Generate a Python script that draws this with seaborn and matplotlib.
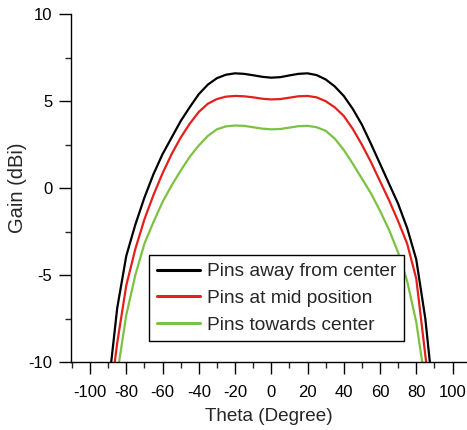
import numpy as np
import pandas as pd
import matplotlib
matplotlib.use("Agg")
import matplotlib.pyplot as plt
import seaborn as sns
from matplotlib.ticker import MultipleLocator

# angles and gain curves
theta = list(range(-90, 95, 5))
gain_away = [-11.6, -6.9, -3.9, -2.1, -0.55, 0.8, 1.95, 2.9, 3.85, 4.65, 5.4, 5.95, 6.32, 6.52, 6.6,
             6.57, 6.49, 6.4, 6.35, 6.38, 6.48, 6.57, 6.6, 6.5, 6.25, 5.85, 5.3, 4.55, 3.65, 2.55,
             1.4, 0.25, -0.9, -2.3, -4.1, -7.5, -12.5]
gain_mid = [-13.0, -8.9, -5.6, -3.5, -1.8, -0.4, 0.85, 1.95, 2.9, 3.7, 4.38, 4.85, 5.12, 5.26, 5.3,
            5.28, 5.22, 5.14, 5.1, 5.12, 5.2, 5.28, 5.3, 5.22, 5.0, 4.65, 4.15, 3.4, 2.5, 1.5,
            0.4, -0.7, -1.9, -3.2, -5.2, -9.6, -14.0]
gain_towards = [-14.5, -10.7, -7.3, -5.0, -3.2, -1.95, -0.8, 0.15, 1.0, 1.8, 2.45, 3.0, 3.38, 3.55, 3.6,
                3.58, 3.5, 3.42, 3.38, 3.4, 3.48, 3.56, 3.58, 3.5, 3.3, 2.85, 2.2, 1.4, 0.55, -0.3,
                -1.3, -2.4, -3.7, -5.35, -7.7, -11.2, -15.0]
series_names = ["Pins away from center", "Pins at mid position", "Pins towards center"]
colors = ["#000000", "#e3201b", "#7cc242"]

df = pd.DataFrame({
    "theta": theta * 3,
    "gain": gain_away + gain_mid + gain_towards,
    "series": np.repeat(series_names, len(theta)),
})

sns.set_style("ticks")
plt.rcParams['font.family'] = ['Liberation Sans', 'DejaVu Sans']
plt.rcParams['axes.unicode_minus'] = False

fig = plt.figure(figsize=(4.67, 4.30), dpi=100)
ax = fig.add_axes([0.152, 0.158, 0.848, 0.809])
sns.lineplot(data=df, x="theta", y="gain", hue="series", palette=colors,
             hue_order=series_names, linewidth=1.6, ax=ax, sort=False)

ax.set_xlim(-110.5, 108)
ax.set_ylim(-10, 10)
ax.set_xticks(range(-100, 101, 20))
ax.xaxis.set_minor_locator(MultipleLocator(10))
ax.yaxis.set_major_locator(MultipleLocator(5))
ax.yaxis.set_minor_locator(MultipleLocator(2.5))
ax.tick_params(which='major', direction='out', length=8.5, width=1.0, labelsize=12, colors='black')
ax.tick_params(which='minor', direction='out', length=4.5, width=1.0)
ax.tick_params(axis='x', which='major', pad=8)
ax.tick_params(axis='y', which='major', pad=5)
ax.set_xlabel("Theta (Degree)", fontsize=13.6, labelpad=6)
ax.set_ylabel("Gain (dBi)", fontsize=14.5, labelpad=1)
sns.despine(ax=ax)
for s in ['left', 'bottom']:
    ax.spines[s].set_linewidth(1.0)
    ax.spines[s].set_color('black')

leg = ax.legend(loc='lower left', bbox_to_anchor=(0.197, 0.060), fontsize=13.8,
                frameon=True, fancybox=False, edgecolor='black', framealpha=1,
                borderaxespad=0, handlelength=2.25, borderpad=0.4, labelspacing=0.48,
                handletextpad=0.4)
leg.get_frame().set_linewidth(1.0)
for line in leg.get_lines():
    line.set_linewidth(2.2)

fig.savefig("out.png", dpi=100)
